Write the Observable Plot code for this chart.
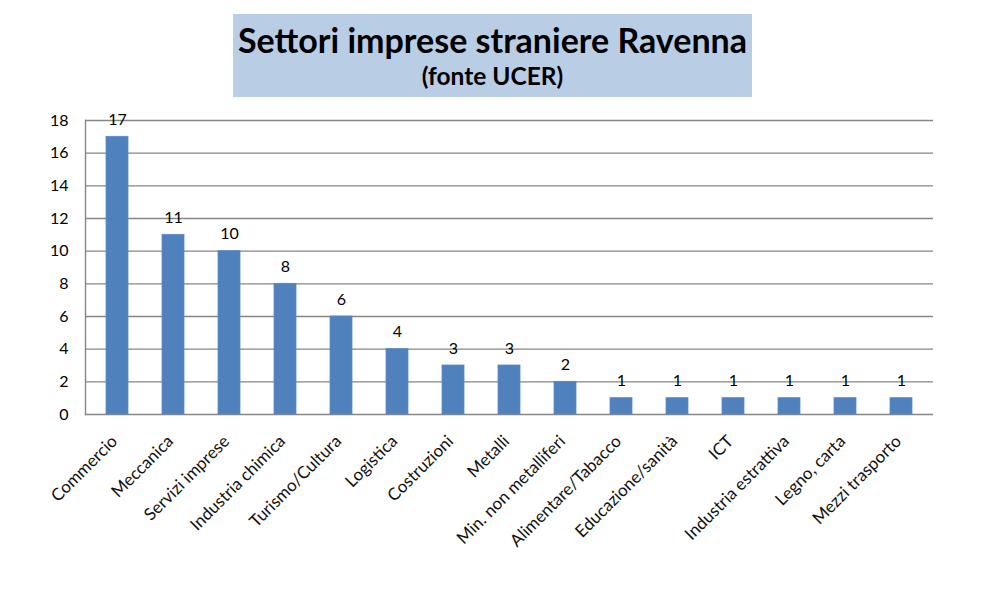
<!DOCTYPE html>
<html>
<head>
<meta charset="utf-8">
<script src="https://cdn.jsdelivr.net/npm/d3@7"></script>
<script src="https://cdn.jsdelivr.net/npm/@observablehq/plot@0.6"></script>
<style>
  html, body { margin: 0; padding: 0; background: #fff; }
  #wrap { position: relative; width: 1006px; height: 595px; font-family: Lato, "Open Sans", sans-serif; }
  #titlebox { position: absolute; left: 233px; top: 14px; width: 519px; height: 83px; background: #b9cde5; text-align: center; color: #000; }
  #title { font-weight: bold; font-size: 34px; line-height: 34px; padding-top: 9px; }
  #subtitle { font-weight: bold; font-size: 24.5px; line-height: 24px; margin-top: 7px; }
  #chart { position: absolute; left: 0; top: 0; }
</style>
</head>
<body>
<div id="wrap">
  <div id="chart"></div>
  <div id="titlebox"><div id="title">Settori imprese straniere Ravenna</div><div id="subtitle">(fonte UCER)</div></div>
</div>
<script>
const categories = ["Commercio","Meccanica","Servizi imprese","Industria chimica","Turismo/Cultura","Logistica","Costruzioni","Metalli","Min. non metalliferi","Alimentare/Tabacco","Educazione/sanità","ICT","Industria estrattiva","Legno, carta","Mezzi trasporto"];
const values = [17, 11, 10, 8, 6, 4, 3, 3, 2, 1, 1, 1, 1, 1, 1];
const yTicks = [0, 2, 4, 6, 8, 10, 12, 14, 16, 18];

const data = categories.map((c, i) => ({name: c, value: values[i]}));

const chart = Plot.plot({
  width: 1006,
  height: 595,
  marginLeft: 85,
  marginRight: 73,
  marginTop: 120,
  marginBottom: 181,
  style: {fontFamily: "Lato, 'Open Sans', sans-serif", background: "#fff", color: "#000"},
  x: {domain: categories, paddingInner: 0.61, paddingOuter: 0.305, axis: null},
  y: {domain: [0, 18], axis: null, label: null},
  marks: [
    Plot.ruleY(yTicks, {stroke: "#868686", strokeWidth: 1.4}),
    Plot.frame({anchor: "left", stroke: "#868686", strokeWidth: 1.4}),
    Plot.barY(data, {x: "name", y: "value", fill: "#4f81bd", stroke: "#5a8ac6", strokeWidth: 0.8}),
    Plot.text(data, {x: "name", y: "value", text: d => String(d.value), lineAnchor: "bottom", dy: -12, fontSize: 16, fill: "#000"}),
    Plot.axisY({ticks: yTicks, tickSize: 0, tickPadding: 17, fontSize: 16, label: null, tickFormat: d => String(d)}),
    Plot.text(data, {x: "name", frameAnchor: "bottom", text: "name", rotate: -45, textAnchor: "end", lineAnchor: "middle", dy: 24, dx: -3, fontSize: 17, fill: "#111"})
  ]
});
document.getElementById("chart").appendChild(chart);
</script>
</body>
</html>
